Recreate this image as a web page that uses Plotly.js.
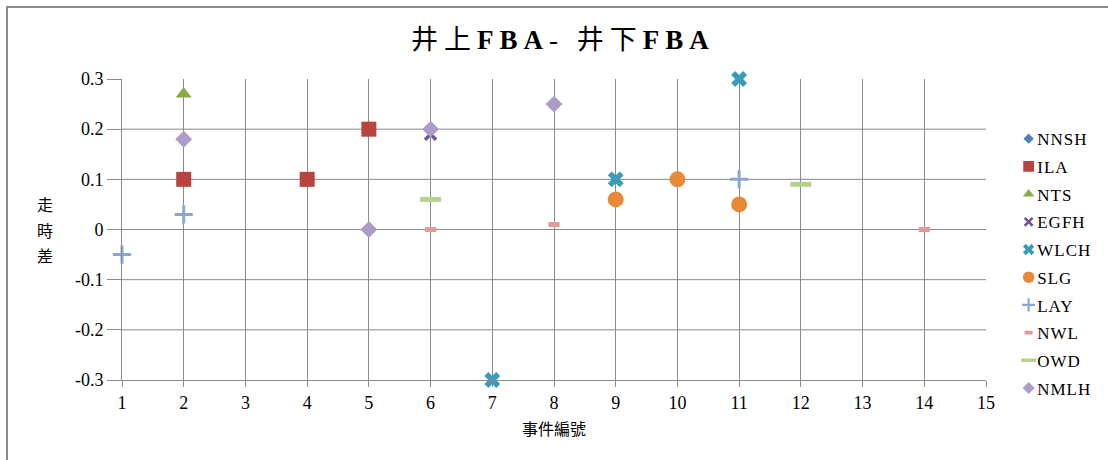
<!DOCTYPE html>
<html>
<head>
<meta charset="utf-8">
<script src="https://cdn.plot.ly/plotly-3.0.1.min.js"></script>
<style>
  html, body { margin: 0; padding: 0; background: #fff; }
  #wrap { position: relative; width: 1108px; height: 460px; overflow: hidden; }
  #chart { width: 1108px; height: 460px; }
  #frame { position: absolute; left: 6px; top: 6px; width: 1200px; height: 600px;
           border-left: 2px solid #8c8c8c; border-top: 2px solid #8c8c8c; pointer-events: none; }
  #chart .gtitle { letter-spacing: 6px; }
  #chart .legendtext { letter-spacing: 1px; }
  #chart g.legendpoints { transform: translate(17px, 0px) scale(0.72); }
</style>
</head>
<body>
<div id="wrap"><div id="chart"></div><div id="frame"></div></div>
<script>
// ---- data ----
const seriesNames = ["NNSH", "ILA", "NTS", "EGFH", "WLCH", "SLG", "LAY", "NWL", "OWD", "NMLH"];
const NNSH_x = [];            const NNSH_y = [];
const ILA_x  = [2, 4, 5];     const ILA_y  = [0.10, 0.10, 0.20];
const NTS_x  = [2];           const NTS_y  = [0.27];
const EGFH_x = [6];           const EGFH_y = [0.19];
const WLCH_x = [7, 9, 11];    const WLCH_y = [-0.30, 0.10, 0.30];
const SLG_x  = [9, 10, 11];   const SLG_y  = [0.06, 0.10, 0.05];
const LAY_x  = [1, 2, 11];    const LAY_y  = [-0.05, 0.03, 0.10];
const NWL_x  = [6, 8, 14];    const NWL_y  = [0.00, 0.01, 0.00];
const OWD_x  = [6, 12];       const OWD_y  = [0.06, 0.09];
const NMLH_x = [2, 5, 6, 8];  const NMLH_y = [0.18, 0.00, 0.20, 0.25];

const xTicks = [1,2,3,4,5,6,7,8,9,10,11,12,13,14,15];
const yTicks = [-0.3,-0.2,-0.1,0,0.1,0.2,0.3];
const yTickText = ["-0.3","-0.2","-0.1","0","0.1","0.2","0.3"];
const titleHTML = "井上<b>FBA</b>- 井下<b>FBA</b>";   // 井上FBA- 井下FBA
const xTitle = "事件編號";
const yTitleChars = ["走", "時", "差"];

// ---- styles ----
const serif = "Liberation Serif";
const mixed = "Liberation Serif, Noto Sans CJK TC";
const cjk = "Noto Sans CJK TC";

function tr(name, x, y, marker, group) {
  return { type: "scatter", mode: "markers", name: name, x: x, y: y, cliponaxis: false,
           marker: marker, legendgroup: group, showlegend: true, hoverinfo: "x+y+name" };
}

const data = [
  tr(seriesNames[0], NNSH_x.length ? NNSH_x : [null], NNSH_y.length ? NNSH_y : [null],
     { symbol: "diamond", size: 11, color: "#4F81BD" }, "g0"),
  tr(seriesNames[1], ILA_x, ILA_y, { symbol: "square", size: 15, color: "#B8433F" }, "g1"),
  tr(seriesNames[2], NTS_x, NTS_y, { symbol: "triangle-up", size: 14, color: "#8AAA48" }, "g2"),
  tr(seriesNames[3], EGFH_x, EGFH_y, { symbol: "x-thin-open", size: 11, color: "#6E549A", line: { width: 3.5, color: "#6E549A" } }, "g3"),
  tr(seriesNames[4], WLCH_x, WLCH_y, { symbol: "x", size: 14, color: "#3A9DB8" }, "g4"),
  tr(seriesNames[5], SLG_x, SLG_y, { symbol: "circle", size: 16, color: "#E8893A" }, "g5"),
  tr(seriesNames[6], LAY_x, LAY_y, { symbol: "cross-thin-open", size: 13, color: "#8AA6D6", line: { width: 3, color: "#8AA6D6" } }, "g6"),
  tr(seriesNames[7], NWL_x, NWL_y, { symbol: "line-ew-open", size: 8, color: "#E29A9A", line: { width: 5, color: "#E29A9A" } }, "g7"),
  tr(seriesNames[8], OWD_x, OWD_y, { symbol: "line-ew-open", size: 15, color: "#B5D38C", line: { width: 5, color: "#B5D38C" } }, "g8"),
  tr(seriesNames[9], NMLH_x, NMLH_y, { symbol: "diamond", size: 13, color: "#AE9CC8" }, "g9")
];

const gridShapes = yTicks.filter(v => v < Math.max(...yTicks) && v > Math.min(...yTicks)).map(v => ({
  type: "line", xref: "paper", yref: "y", x0: 0, x1: 1, y0: v, y1: v,
  line: { color: "#8a8a8a", width: 1 }, layer: "below"
}));

const yTitleAnn = yTitleChars.map((c, i) => ({
  text: c, xref: "paper", yref: "paper", x: -0.089, y: 0.585 - i * 0.085,
  xanchor: "center", yanchor: "middle", showarrow: false,
  font: { family: cjk, size: 16, color: "#000" }
}));

const layout = {
  width: 1108, height: 460,
  margin: { l: 122, r: 122, t: 79, b: 80 },
  paper_bgcolor: "#ffffff", plot_bgcolor: "#ffffff",
  showlegend: true,
  title: { text: titleHTML, x: 0.508, xanchor: "center", y: 0.915, yanchor: "middle",
           font: { family: mixed, size: 27, color: "#000" } },
  xaxis: {
    range: [1, 15], tickvals: xTicks, ticktext: xTicks.map(String),
    showgrid: true, gridcolor: "#8a8a8a", gridwidth: 1, zeroline: false,
    showline: true, linecolor: "#8a8a8a", linewidth: 1,
    ticks: "outside", ticklen: 6, tickcolor: "#8a8a8a",
    tickfont: { family: serif, size: 18, color: "#000" },
    title: { text: xTitle, font: { family: cjk, size: 16, color: "#000" }, standoff: 12 },
    fixedrange: true
  },
  yaxis: {
    range: [-0.3, 0.3], tickvals: yTicks, ticktext: yTickText,
    showgrid: false, zeroline: false,
    showline: true, linecolor: "#8a8a8a", linewidth: 1,
    ticks: "outside", ticklen: 14, tickcolor: "#8a8a8a",
    tickfont: { family: serif, size: 18, color: "#000" },
    fixedrange: true
  },
  shapes: gridShapes,
  annotations: yTitleAnn,
  legend: {
    x: 1.013, xanchor: "left", y: 0.86, yanchor: "top",
    traceorder: "grouped", tracegroupgap: 2.6,
    font: { family: serif, size: 17, color: "#000" },
    itemwidth: 30, bgcolor: "rgba(0,0,0,0)"
  }
};

Plotly.newPlot("chart", data, layout, { displayModeBar: false, staticPlot: true });
</script>
</body>
</html>
